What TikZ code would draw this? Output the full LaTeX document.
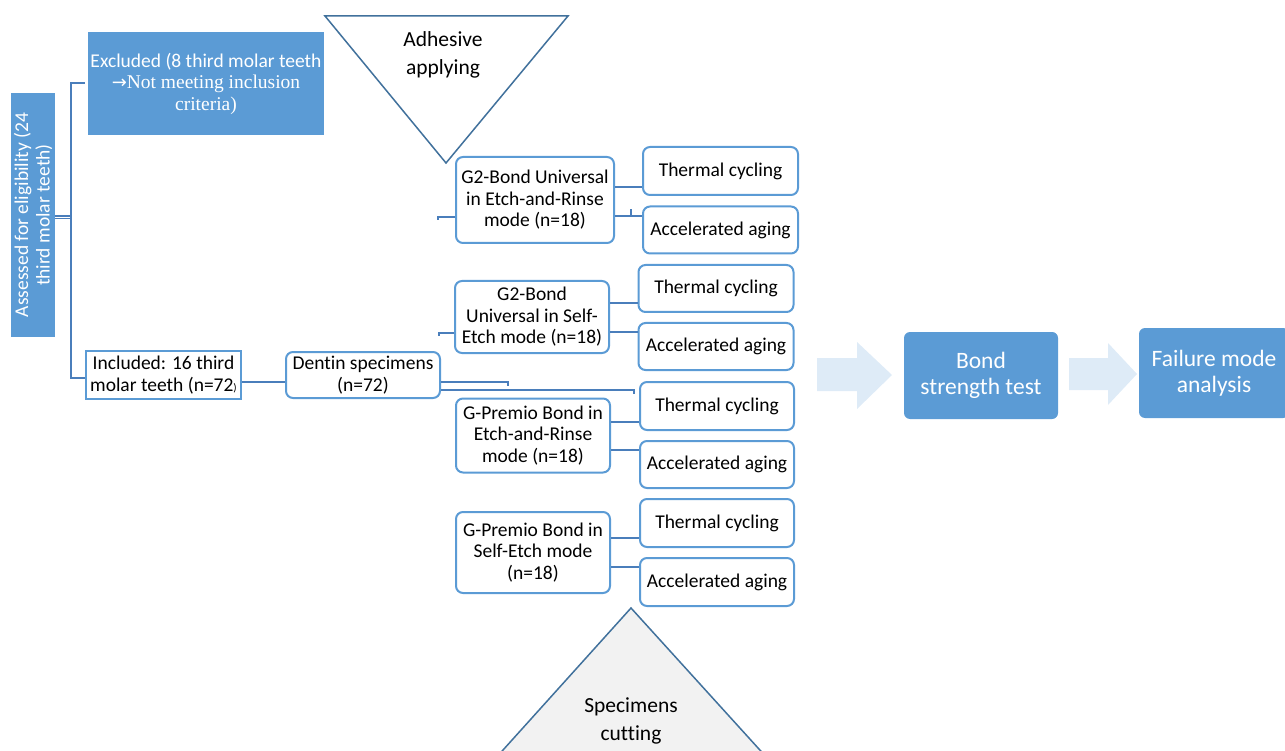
\documentclass[tikz,border=0pt]{standalone}
\usepackage{fontspec}
\setmainfont{Carlito}[Ligatures=NoCommon]
\newfontfamily\tnr{Liberation Serif}
\newfontfamily\arrfont{DejaVu Sans}
\definecolor{fillblue}{HTML}{5B9BD5}
\definecolor{lineblue}{HTML}{4A7EBB}
\definecolor{triblue}{HTML}{41719C}
\definecolor{arrowfill}{HTML}{DEEBF7}
\definecolor{trigray}{HTML}{F2F2F2}
\begin{document}
\begin{tikzpicture}[x=1pt,y=-1pt,
  txt/.style={font=\fontsize{19.5}{21.5}\selectfont, align=center, inner sep=0pt},
  wbox/.style={txt, draw=fillblue, line width=2pt, rounded corners=7pt, fill=white},
  sqbox/.style={txt, draw=fillblue, line width=2pt, fill=white},
  bbox/.style={txt, fill=fillblue, text=white},
  rbox/.style={bbox, rounded corners=6pt, font=\fontsize{23.5}{26}\selectfont},
  tribox/.style={txt, font=\fontsize{21.5}{28}\selectfont},
  conn/.style={draw=lineblue, line width=2pt},
  tri/.style={draw=triblue, line width=1.5pt, line join=miter},
  bigarrow/.style={fill=arrowfill, draw=none}]
\useasboundingbox (0,0) rectangle (1285,751);
\clip (0,0) rectangle (1285,751);

% triangles
\draw[tri, fill=white] (325,16) -- (568,16) -- (446,163) -- cycle;
\node[tribox] (adh) at (443,55) {Adhesive\\applying};
\draw[tri, fill=trigray] (631,608) -- (485,770) -- (778,770) -- cycle;
\node[tribox] (cut) at (631,721) {Specimens\\cutting};

% left part
\node[bbox, rotate=90, minimum width=244pt, minimum height=44pt] (ass) at (33,215) {Assessed for eligibility (24\\third molar teeth)};
\node[bbox, minimum width=236pt, minimum height=103pt] (exc) at (206,83.5) {Excluded (8 third molar teeth\\{\arrfont\fontsize{18}{21.5}\selectfont →}{\tnr Not meeting inclusion}\\{\tnr criteria)}};
\node[sqbox, minimum width=155pt, minimum height=48pt] (inc) at (163.5,375) {Included: 16 third\\molar teeth (n=72{\fontsize{11}{11}\selectfont )}};
\node[wbox, minimum width=154pt, minimum height=46pt] (den) at (363,375) {Dentin specimens\\(n=72)};

% groups
\node[wbox, minimum width=158pt, minimum height=86pt] (g2er) at (535,200) {G2-Bond Universal\\in Etch-and-Rinse\\mode (n=18)};
\node[wbox, minimum width=154pt, minimum height=72pt] (g2se) at (532,317) {G2-Bond\\Universal in Self-\\Etch mode (n=18)};
\node[wbox, minimum width=154pt, minimum height=74pt] (gper) at (533,435.5) {G-Premio Bond in\\Etch-and-Rinse\\mode (n=18)};
\node[wbox, minimum width=154pt, minimum height=81pt] (gpse) at (533,552.5) {G-Premio Bond in\\Self-Etch mode\\(n=18)};

\node[wbox, minimum width=155pt, minimum height=48pt] (tc1) at (720.5,171) {Thermal cycling};
\node[wbox, minimum width=155pt, minimum height=47pt] (aa1) at (720.5,230) {Accelerated aging};
\node[wbox, minimum width=155pt, minimum height=47pt] (tc2) at (716,288.5) {Thermal cycling};
\node[wbox, minimum width=155pt, minimum height=47pt] (aa2) at (716,346.5) {Accelerated aging};
\node[wbox, minimum width=154pt, minimum height=48pt] (tc3) at (717,406) {Thermal cycling};
\node[wbox, minimum width=154pt, minimum height=47pt] (aa3) at (717,464.5) {Accelerated aging};
\node[wbox, minimum width=154pt, minimum height=48pt] (tc4) at (717,523) {Thermal cycling};
\node[wbox, minimum width=154pt, minimum height=48pt] (aa4) at (717,582) {Accelerated aging};

% right part
\draw[bigarrow] (817,358) -- (857,358) -- (857,342) -- (892,375) -- (857,409) -- (857,391) -- (817,391) -- cycle;
\node[rbox, minimum width=154pt, minimum height=87pt] (bst) at (981,375.5) {Bond\\strength test};
\draw[bigarrow] (1069,358) -- (1108,358) -- (1108,343) -- (1137,374) -- (1108,405) -- (1108,390) -- (1069,390) -- cycle;
\node[rbox, minimum width=150pt, minimum height=90pt] (fma) at (1214,373) {Failure mode\\analysis};

% connectors
\coordinate (asr) at (55,217.5);
\coordinate (bt) at (71,83);
\coordinate (bm) at (71,217.5);
\coordinate (bb) at (71,378);
\draw[draw=lineblue, line width=1.2pt, double=white, double distance=1.6pt] (asr) -- (bm);
\draw[conn] ([xshift=-3pt]exc.west |- bt) -- (bt) -- (bb) -- (inc.west |- bb);
\draw[conn] (inc.east |- 0,382) -- (den.west |- 0,382);

\coordinate (s1) at (508,382);
\coordinate (s1e) at (508,386);
\coordinate (s2) at (634,390);
\coordinate (s2e) at (634,394);
\draw[conn] (den.east |- s1) -- (s1) -- (s1e);
\draw[conn] (den.east |- s2) -- (s2) -- (s2e);

\coordinate (s3) at (438,217);
\coordinate (s3e) at (438,220);
\coordinate (s4) at (439,333);
\coordinate (s4e) at (439,336);
\draw[conn] (g2er.west |- s3) -- (s3) -- (s3e);
\draw[conn] (g2se.west |- s4) -- (s4) -- (s4e);

\draw[conn] (g2er.east |- 0,187) -- (tc1.west |- 0,187);
\draw[conn] (g2er.east |- 0,216) -- (aa1.west |- 0,216);
\coordinate (t1) at (631,216);
\coordinate (t1e) at (631,209);
\draw[conn] (t1) -- (t1e);
\draw[conn] (g2se.east |- 0,303) -- (tc2.west |- 0,303);
\draw[conn] (g2se.east |- 0,332) -- (aa2.west |- 0,332);
\draw[conn] (gper.east |- 0,422) -- (tc3.west |- 0,422);
\draw[conn] (gper.east |- 0,450) -- (aa3.west |- 0,450);
\draw[conn] (gpse.east |- 0,538) -- (tc4.west |- 0,538);
\draw[conn] (gpse.east |- 0,567) -- (aa4.west |- 0,567);
\end{tikzpicture}
\end{document}
